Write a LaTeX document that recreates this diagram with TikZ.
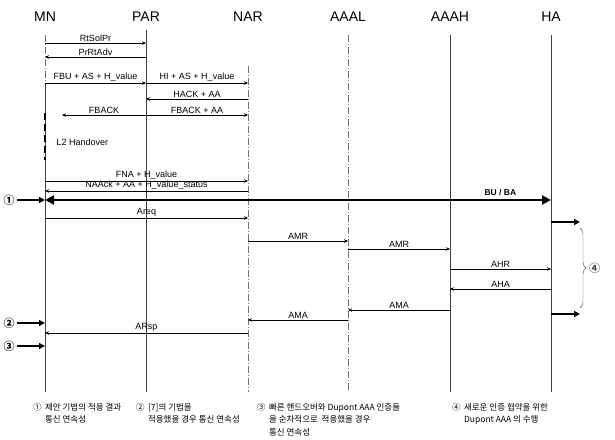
\documentclass[tikz,border=0pt]{standalone}
\usepackage{fontspec}
\setmainfont{Liberation Sans}
\newfontfamily\krfont{Noto Sans CJK KR}
\usetikzlibrary{arrows.meta,decorations.pathreplacing}

\tikzset{
	head/.style     = {font=\fontsize{14}{16}\selectfont},
	lifeline/.style = {black!75, line width=0.6pt},
	dotline/.style  = {black!55, line width=0.6pt, dash pattern=on 7pt off 2pt on 1pt off 2pt},
	msg/.style      = {-{Stealth[length=4pt,width=3.5pt]}, line width=0.5pt},
	msglabel/.style = {above, inner sep=1pt, font=\fontsize{9}{10}\selectfont},
	bigarrow/.style = {line width=2pt, -{Triangle[length=6pt,width=6pt]}},
	marker/.style   = {font=\krfont\bfseries\fontsize{11}{12}\selectfont, inner sep=0pt},
	note/.style     = {font=\krfont\fontsize{8.5}{12.5}\selectfont, align=left, anchor=north west, inner sep=0pt},
}

% message from lifeline #2 to lifeline #3 at height #4
\newcommand\msgat[5][]{\draw[msg,#1] (#2 |- 0,#4) -- (#3 |- 0,#4) node[msglabel,midway] {#5};}

\begin{document}
\begin{tikzpicture}[x=1pt,y=-1pt]
	\useasboundingbox (0,0) rectangle (615,439);
	
	%% ENTITIES
	\node[head] (MN)   at (45,17)  {MN};
	\node[head] (PAR)  at (146,17) {PAR};
	\node[head] (NAR)  at (248,17) {NAR};
	\node[head] (AAAL) at (348,17) {AAAL};
	\node[head] (AAAH) at (450,17) {AAAH};
	\node[head] (HA)   at (551,17) {HA};
	\coordinate (FBend) at (62,0);
	
	% Lifelines
	\draw [dotline]  (MN |- 0,35)   -- (MN |- 0,83);
	\draw [lifeline] (MN |- 0,83)   -- (MN |- 0,392);
	\draw [lifeline] (PAR |- 0,30)  -- (PAR |- 0,392);
	\draw [dotline]  (NAR |- 0,66)  -- (NAR |- 0,392);
	\draw [dotline]  (AAAL |- 0,35) -- (AAAL |- 0,392);
	\draw [lifeline] (AAAH |- 0,35) -- (AAAH |- 0,392);
	\draw [lifeline] (HA |- 0,35)   -- (HA |- 0,392);
	
	%% FAST HANDOVER
	\msgat{MN}{PAR}{43}{RtSolPr}
	\msgat{PAR}{MN}{57}{PrRtAdv}
	\msgat{MN}{PAR}{83}{FBU + AS + H\_value}
	\msgat{PAR}{NAR}{83}{HI + AS + H\_value}
	\msgat{NAR}{PAR}{99}{HACK + AA}
	\msgat{PAR}{FBend}{115}{FBACK}
	\msgat{PAR}{NAR}{115}{FBACK + AA}
	
	% L2 Handover
	\draw [line width=2pt, dash pattern=on 7pt off 4pt] (MN |- 0,113) -- (MN |- 0,160);
	\node [font=\fontsize{9}{10}\selectfont, anchor=west] (L2) at (53,142) {L2 Handover};
	
	\msgat{MN}{NAR}{181}{FNA + H\_value}
	\msgat{NAR}{MN}{191}{NAAck + AA + H\_value\_status}
	
	% Binding update
	\draw [line width=2.5pt, {Triangle[length=9pt,width=9pt]}-{Triangle[length=9pt,width=9pt]}] (MN |- 0,200) -- (HA |- 0,200)
	node[pos=0.9, above, font=\bfseries\fontsize{8.5}{10}\selectfont] {BU / BA};
	
	%% AAA
	\msgat{MN}{NAR}{218}{Areq}
	\msgat{NAR}{AAAL}{241}{AMR}
	\msgat{AAAL}{AAAH}{249}{AMR}
	\msgat{AAAH}{HA}{269}{AHR}
	\msgat{HA}{AAAH}{289}{AHA}
	\msgat{AAAH}{AAAL}{310}{AMA}
	\msgat{AAAL}{NAR}{320}{AMA}
	\msgat{NAR}{MN}{333}{ARsp}
	
	%% MARKERS
	\node[marker] (m1) at (9,200) {①};
	\node[marker] (m2) at (9,323) {②};
	\node[marker] (m3) at (9,346) {③};
	\draw [bigarrow] ([xshift=2pt]m1.east) -- (MN |- m1);
	\draw [bigarrow] ([xshift=2pt]m2.east) -- (MN |- m2);
	\draw [bigarrow] ([xshift=2pt]m3.east) -- (MN |- m3);
	
	\coordinate (r1) at (580,222);
	\coordinate (r2) at (580,314);
	\draw [bigarrow] (HA |- r1) -- (r1);
	\draw [bigarrow] (HA |- r2) -- (r2);
	
	% brace
	\draw [black!70, decorate, decoration={brace,amplitude=6pt}] (580,228) -- (580,308)
	node[midway, right=9pt, marker] (m4) {④};
	
	%% NOTES
	\node[note] (n1num) at (33,403) {①};
	\node[note] (n1) at ([xshift=3pt]n1num.north east) {제안 기법의 적용 결과\\통신 연속성};
	\node[note] (n2num) at (136,403) {②};
	\node[note] (n2) at ([xshift=3pt]n2num.north east) {[7]의 기법을\\적용했을 경우 통신 연속성};
	\node[note] (n3num) at (257,403) {③};
	\node[note] (n3) at ([xshift=3pt]n3num.north east) {빠른 핸드오버와 Dupont AAA 인증들\\을 순차적으로 \ 적용했을 경우\\통신 연속성};
	\node[note] (n4num) at (452,403) {④};
	\node[note] (n4) at ([xshift=3pt]n4num.north east) {새로운 인증 협약을 위한\\Dupont AAA 의 수행};
	
\end{tikzpicture}
\end{document}
